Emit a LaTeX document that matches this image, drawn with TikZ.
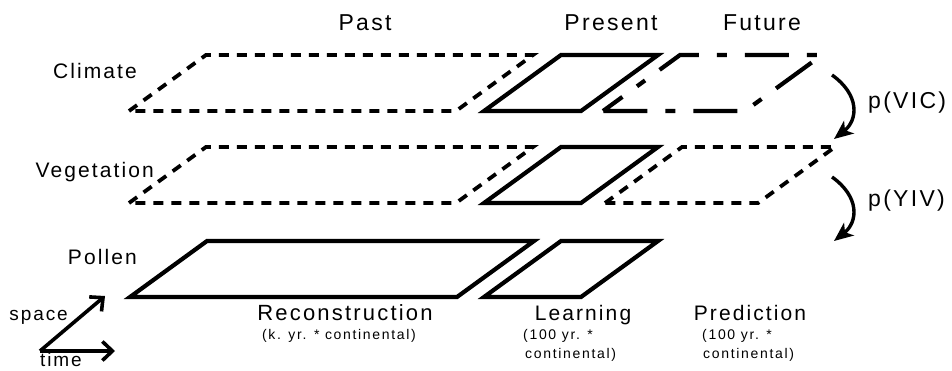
\documentclass[tikz,border=0pt]{standalone}
\usepackage{fontspec}
\setmainfont{Liberation Sans}[LetterSpace=10]
\newfontfamily\notefont{Liberation Sans}[LetterSpace=12]
\usetikzlibrary{arrows.meta}

\begin{document}
\begin{tikzpicture}[x=1pt, y=-1pt,
    layer/.style={line width=4.2pt, line join=miter},
    pastlayer/.style={layer, line width=3.8pt, dash pattern=on 10pt off 8pt},
    futlayer/.style={layer, dash pattern=on 44pt off 18pt on 10pt off 18pt, dash phase=20pt},
    ttl/.style={inner sep=0pt, anchor=base, font=\fontsize{23}{27}\selectfont},
    lbl/.style={inner sep=0pt, anchor=base east, font=\fontsize{21}{25}\selectfont},
    note/.style={inner sep=0pt, anchor=base west, font=\notefont\fontsize{14}{17}\selectfont},
    axisarrow/.style={line width=3.6pt, -{Straight Barb[length=10pt,width=19pt]}},
    linkarrow/.style={line width=3.4pt, -{Stealth[length=19pt,width=16pt,inset=5pt]}}]
  \useasboundingbox (0,0) rectangle (952,370);
  % layer geometry: slant and height of each sheet
  \def\laydx{77}
  \def\layh{56}
  % past sheets (climate, vegetation) dashed, pollen solid
  \foreach \yb in {111,203}
    \draw[pastlayer] (129,\yb) -- ++(\laydx,-\layh) -- ++(327,0) -- ++(-\laydx,\layh) -- cycle;
  \draw[layer] (130,297) -- ++(\laydx,-\layh) -- ++(327,0) -- ++(-\laydx,\layh) -- cycle;
  % present sheets
  \foreach \yb in {111,203,297}
    \draw[layer] (484,\yb) -- ++(\laydx,-\layh) -- ++(97,0) -- ++(-\laydx,\layh) -- cycle;
  % future sheets
  \draw[futlayer] (603,111) -- ++(\laydx,-\layh) -- ++(142,0) -- ++(-\laydx,\layh) -- cycle;
  \draw[pastlayer] (605,203) -- ++(\laydx,-\layh) -- ++(153,0) -- ++(-\laydx,\layh) -- cycle;

  % column titles
  \node[ttl] (past) at (365,30) {Past};
  \node[ttl] (present) at (611,30) {Present};
  \node[ttl] (future) at (762,30) {Future};
  % row labels
  \node[lbl] (climate) at (137,78) {Climate};
  \node[lbl] (veget) at (154,177) {Vegetation};
  \node[lbl] (pollen) at (137,264) {Pollen};

  % task labels under the pollen sheet
  \node[ttl, font=\fontsize{22}{26}\selectfont] (recon) at (345,320) {Reconstruction};
  \node[note, anchor=base] (reconnote) at (339,339) {(k. yr. * continental)};
  \node[ttl, font=\fontsize{21}{25}\selectfont] (learn) at (583,320) {Learning};
  \node[note] (learnnote) at (523,339) {(100 yr. *};
  \node[note] (learnnote2) at (525,358) {continental)};
  \node[ttl, font=\fontsize{21}{25}\selectfont] (predict) at (750,320) {Prediction};
  \node[note] (prednote) at (702,339) {(100 yr. *};
  \node[note] (prednote2) at (703,358) {continental)};

  % dependencies between sheets
  \coordinate (vicA) at (832,75);
  \coordinate (vicB) at (834,139);
  \draw[linkarrow] (vicA) .. controls (860,95) and (858,120) .. (vicB);
  \node[ttl, anchor=base west] (pvic) at (868,108) {p(VIC)};
  \coordinate (yivA) at (832,177);
  \coordinate (yivB) at (834,241);
  \draw[linkarrow] (yivA) .. controls (860,197) and (858,222) .. (yivB);
  \node[ttl, anchor=base west] (pyiv) at (868,206) {p(YIV)};

  % space / time axes
  \coordinate (orig) at (40,351);
  \draw[axisarrow] (orig) -- (105,296);
  \draw[axisarrow] (orig) -- (115,351);
  \node[lbl, font=\fontsize{19}{23}\selectfont] (space) at (68,320) {space};
  \node[lbl, anchor=base west, font=\fontsize{19}{23}\selectfont] (time) at (40,366) {time};
\end{tikzpicture}
\end{document}
